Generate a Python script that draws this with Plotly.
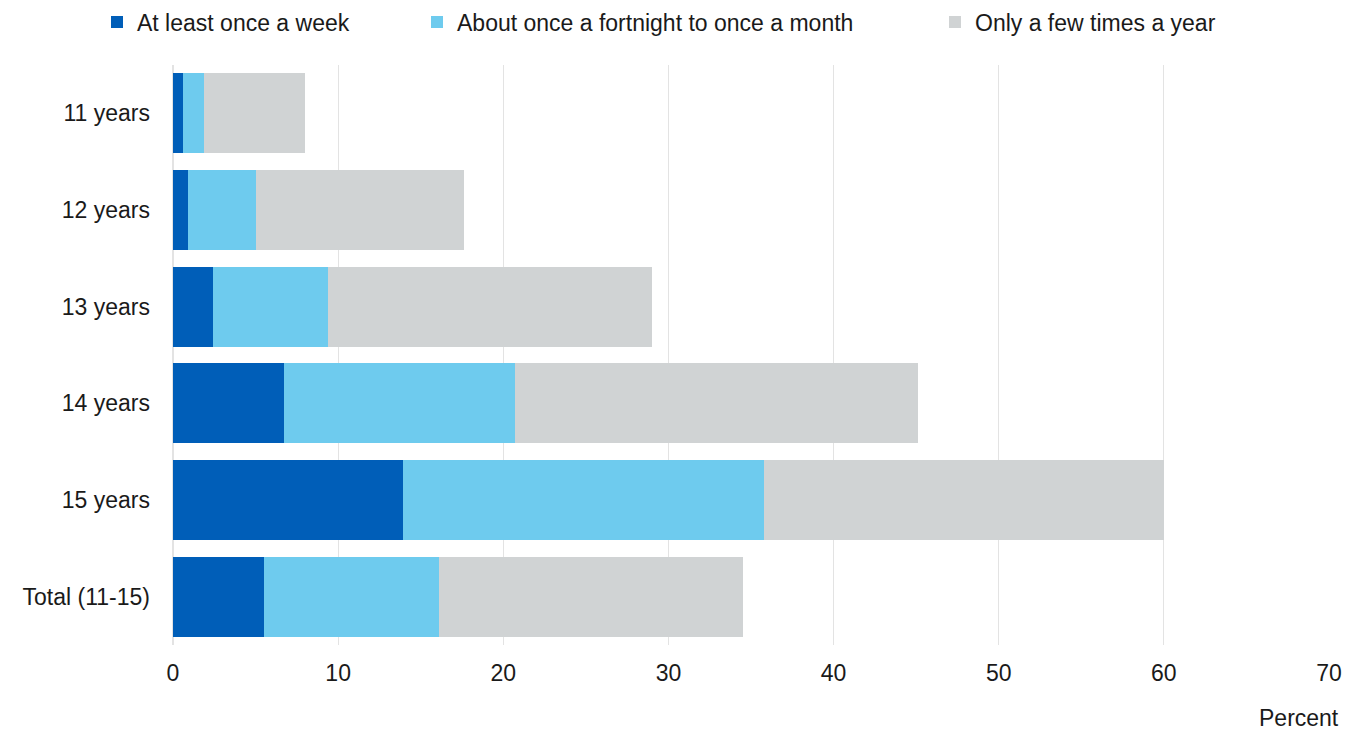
import plotly.graph_objects as go

# Age groups (top to bottom) and share of pupils by frequency, in percent
categories = ["11 years", "12 years", "13 years", "14 years", "15 years", "Total (11-15)"]
weekly = [0.6, 0.9, 2.4, 6.7, 13.9, 5.5]
monthly = [1.3, 4.1, 7.0, 14.0, 21.9, 10.6]
yearly = [6.1, 12.6, 19.6, 24.4, 24.2, 18.4]

series_names = [
    "At least once a week",
    "About once a fortnight to once a month",
    "Only a few times a year",
]
series_colors = ["#005EB8", "#6ECBEE", "#D0D3D4"]
x_ticks = [0, 10, 20, 30, 40, 50, 60, 70]

FONT = "Liberation Sans, Arial, sans-serif"
FS = 23
W, H = 1359, 731
M_T, M_B = 65, 86
PLOT_H = H - M_T - M_B

fig = go.Figure()
legend_ids = ["legend", "legend2", "legend3"]
for name, vals, color, lg in zip(series_names, [weekly, monthly, yearly], series_colors, legend_ids):
    fig.add_trace(go.Bar(
        y=categories, x=vals, name=name, orientation="h",
        marker=dict(color=color, line=dict(width=0)),
        legend=lg, showlegend=True,
    ))

legend_style = dict(
    orientation="h", xref="container", yref="container",
    yanchor="middle", xanchor="left", y=1 - 22 / H,
    font=dict(family=FONT, size=FS, color="#1a1a1a"),
    bgcolor="rgba(0,0,0,0)", itemwidth=30,
)
legend_x = [97, 417, 935]

fig.update_layout(
    width=W, height=H, showlegend=True,
    barmode="stack", bargap=0.17,
    plot_bgcolor="white", paper_bgcolor="white",
    margin=dict(l=173, r=30, t=M_T, b=M_B),
    font=dict(family=FONT, size=FS, color="#1a1a1a"),
    xaxis=dict(
        range=[0, 70], tickvals=x_ticks, showgrid=True, gridcolor="#E3E3E3",
        gridwidth=1, zeroline=True, zerolinecolor="#E3E3E3", showline=False,
        ticks="", tickfont=dict(size=FS), ticklabelstandoff=12,
    ),
    yaxis=dict(
        autorange="reversed", showgrid=False, zeroline=False, showline=False,
        ticks="", tickfont=dict(size=FS), ticklabelstandoff=22,
    ),
    legend=dict(legend_style, x=legend_x[0] / W),
    legend2=dict(legend_style, x=legend_x[1] / W),
    legend3=dict(legend_style, x=legend_x[2] / W),
    annotations=[dict(
        text="Percent", xref="paper", yref="paper", x=1.0, xanchor="right",
        y=-(718 - (H - M_B)) / PLOT_H, yanchor="middle", showarrow=False, xshift=12,
        font=dict(family=FONT, size=FS, color="#1a1a1a"),
    )],
)

fig.write_html("out.html")
